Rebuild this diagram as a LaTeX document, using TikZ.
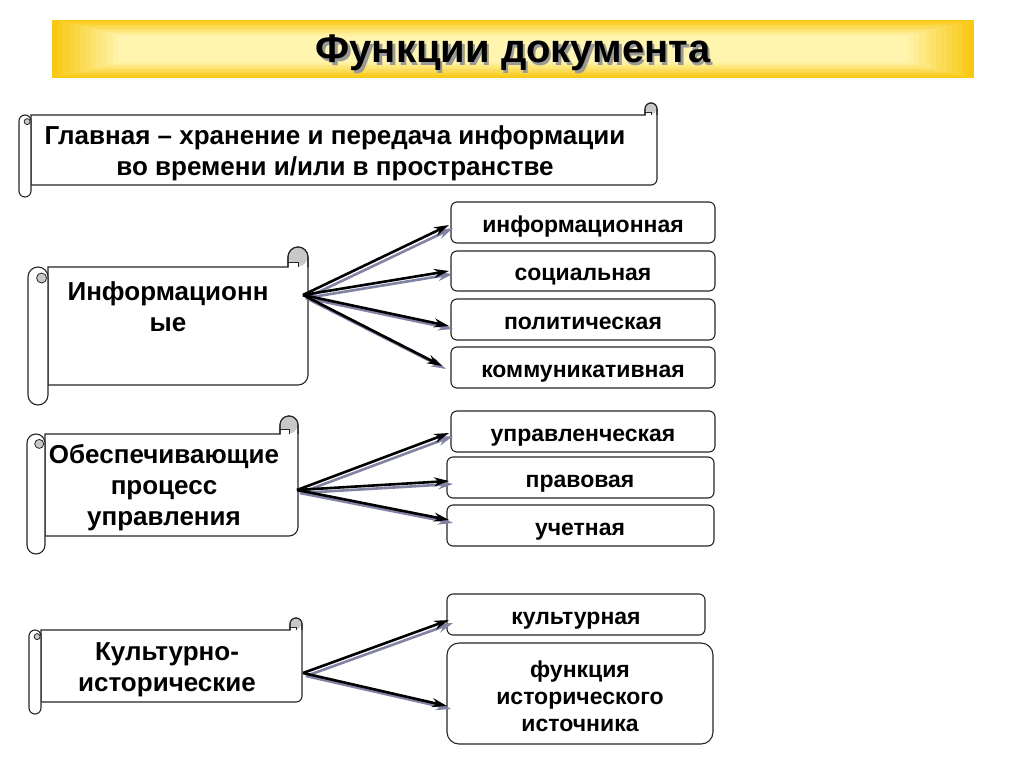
\documentclass[tikz,border=0pt]{standalone}
\usepackage{fontspec}
\setmainfont{Liberation Sans}
\usetikzlibrary{arrows.meta}
\definecolor{goldy}{RGB}{248,200,18}
\definecolor{lightyel}{RGB}{255,245,175}
\definecolor{shadowc}{RGB}{130,130,165}
\definecolor{curlgray}{RGB}{200,200,200}
\tikzset{
  boxline/.style={draw=black!85, line width=1.1pt},
  fbox/.style={boxline, rounded corners=6pt, fill=white},
  btxt/.style={font=\bfseries\fontsize{23}{27}\selectfont, align=center, inner sep=0pt},
  stxt/.style={font=\bfseries\fontsize{26}{31}\selectfont, align=center, inner sep=0pt},
  ttxt/.style={font=\bfseries\fontsize{40}{40}\selectfont, inner sep=0pt},
  arr/.style={line width=2.6pt, -{Stealth[length=15pt,width=9pt]}},
  sarr/.style={arr, draw=shadowc, shadowc},
}
% scroll: L R Ytop Ybot c  (tikz coords, y up)
\newcommand\myscroll[5]{%
  \pgfmathsetmacro\cL{#1}\pgfmathsetmacro\cR{#2}%
  \pgfmathsetmacro\cT{#3}\pgfmathsetmacro\cB{#4}\pgfmathsetmacro\cc{#5}%
  \pgfmathsetmacro\ch{\cc/2}%
  % body
  \draw[boxline, fill=white] (\cL+\cc,\cT-\cc) -- (\cR-\cc,\cT-\cc) -- (\cR-\cc,\cT-\ch)
     arc[start angle=180,end angle=0,radius=\ch] -- (\cR,\cB+\cc+\ch)
     arc[start angle=0,end angle=-90,radius=\ch] -- (\cL+\cc,\cB+\cc) -- cycle;
  % right curl
  \fill[curlgray] (\cR-\ch,\cT-\ch) circle[radius=\ch-0.6];
  \fill[white] (\cR-\cc+0.6,\cT-\cc+0.6) rectangle (\cR-\ch,\cT-0.75*\cc);
  \draw[boxline] (\cR-\cc,\cT-\cc) -- (\cR-\cc,\cT-\ch) arc[start angle=180,end angle=0,radius=\ch] -- (\cR,\cT-\cc);
  \draw[boxline, line width=0.8pt] (\cR-\cc,\cT-0.75*\cc) -- (\cR-\ch,\cT-0.75*\cc) -- (\cR-\ch,\cT-\cc);
  % left roll
  \draw[boxline, fill=white] (\cL,\cT-\cc-\ch) arc[start angle=180,end angle=0,radius=\ch]
     -- (\cL+\cc,\cB+\ch) arc[start angle=0,end angle=-180,radius=\ch] -- cycle;
  \draw[boxline, line width=0.8pt, fill=curlgray] (\cL+0.68*\cc,\cT-1.55*\cc) circle[radius=0.25*\cc];
}
\begin{document}
\begin{tikzpicture}[x=1pt,y=1pt]
\useasboundingbox (0,0) rectangle (1024,-768);
\fill[white] (0,0) rectangle (1024,-768);
% title bar
\foreach \i in {0,...,12}{
  \pgfmathsetmacro\p{\i*8.3}
  \pgfmathsetmacro\ix{52+\i*5.5}
  \pgfmathsetmacro\iX{974-\i*5.5}
  \pgfmathsetmacro\iy{-20-\i*1.3}
  \pgfmathsetmacro\iY{-78+\i*1.3}
  \fill[lightyel!\p!goldy] (\ix,\iy) rectangle (\iX,\iY);
}
\node[ttxt, text=black!40, anchor=base] at (515.5,-65.5) {Функции документа};
\node (title) [ttxt, anchor=base] at (513,-63) {Функции документа};

% scrolls
\myscroll{19}{657}{-103}{-197}{12}
\node (main) [stxt] at (335,-153) {Главная – хранение и передача информации\\во времени и/или в пространстве};

\myscroll{28}{308}{-247}{-405}{20}
\node (s1) [stxt] at (168,-306.5) {Информационн\\ые};

\myscroll{27}{298}{-416}{-554}{18}
\node (s2) [stxt] at (164,-488) {Обеспечивающие\\процесс\\управления};

\myscroll{29}{302}{-618}{-714}{12}
\node (s3) [stxt] at (167,-669.5) {Культурно-\\исторические};

% right boxes
\draw[fbox] (451,-202) rectangle (715,-243); \node (b1) [btxt, anchor=base] at (583,-232) {информационная};
\draw[fbox] (451,-251) rectangle (715,-291); \node (b2) [btxt, anchor=base] at (583,-280) {социальная};
\draw[fbox] (451,-299) rectangle (715,-340); \node (b3) [btxt, anchor=base] at (583,-329) {политическая};
\draw[fbox] (451,-347) rectangle (715,-388); \node (b4) [btxt, anchor=base] at (583,-377) {коммуникативная};
\draw[fbox] (451,-411) rectangle (715,-452); \node (b5) [btxt, anchor=base] at (583,-441) {управленческая};
\draw[fbox] (447,-457) rectangle (714,-498); \node (b6) [btxt, anchor=base] at (580,-487) {правовая};
\draw[fbox] (447,-505) rectangle (714,-546); \node (b7) [btxt, anchor=base] at (580,-535) {учетная};
\draw[fbox] (447,-594) rectangle (705,-635); \node (b8) [btxt, anchor=base] at (576,-624) {культурная};
\draw[fbox, rounded corners=12pt] (447,-643) rectangle (713,-744); \node (b9) [btxt] at (580,-696) {функция\\исторического\\источника};

% arrow origins and targets
\coordinate (o1) at (303,-295);
\coordinate (o2) at (297,-490);
\coordinate (o3) at (303,-673);
\coordinate (t1) at (449,-225);
\coordinate (t2) at (449,-271);
\coordinate (t3) at (449,-326);
\coordinate (t4) at (442,-366);
\coordinate (t5) at (449,-433);
\coordinate (t6) at (449,-481);
\coordinate (t7) at (449,-520);
\coordinate (t8) at (449,-620);
\coordinate (t9) at (447,-706);

\foreach \o/\t in {o1/t1,o1/t2,o1/t3,o1/t4,o2/t5,o2/t6,o2/t7,o3/t8,o3/t9}{
  \draw[sarr] ([shift={(3,-3)}]\o) -- ([shift={(4,-3)}]\t);
}
\foreach \o/\t in {o1/t1,o1/t2,o1/t3,o1/t4,o2/t5,o2/t6,o2/t7,o3/t8,o3/t9}{
  \draw[arr] (\o) -- (\t);
}
\end{tikzpicture}
\end{document}
